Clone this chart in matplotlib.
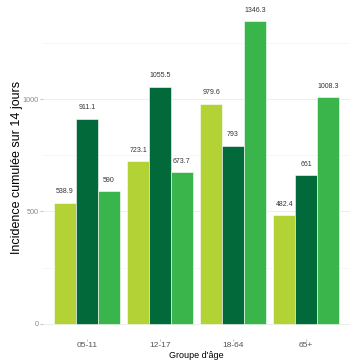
import matplotlib
matplotlib.use("Agg")
import matplotlib.pyplot as plt
import numpy as np
from matplotlib.ticker import MultipleLocator

plt.rcParams['font.family'] = ['Liberation Sans', 'DejaVu Sans']

groups = ["05-11", "12-17", "18-64", "65+"]
series_names = ["Période 1", "Période 2", "Période 3"]
values_p1 = [538.9, 723.1, 979.6, 482.4]
values_p2 = [911.1, 1055.5, 793, 661]
values_p3 = [590, 673.7, 1346.3, 1008.3]
colors = ["#B2D235", "#02693A", "#3AB54B"]

all_series = [values_p1, values_p2, values_p3]

fig = plt.figure(figsize=(3.6, 3.64), dpi=100)
ax = fig.add_axes([43/360, 1 - 339/364, 307/360, 333/364])

x = np.arange(len(groups))
bw = 0.3
for j, (vals, col, name) in enumerate(zip(all_series, colors, series_names)):
    pos = x + (j - 1) * bw
    ax.bar(pos, vals, width=bw, color=col, edgecolor="white", linewidth=0.4,
           label=name, zorder=3)
    for px, v in zip(pos, vals):
        lab = f"{v:g}"
        ax.annotate(lab, (px, v), xytext=(0, 8), textcoords="offset points",
                    ha="center", va="center", fontsize=5, color="#333333", zorder=4)

ax.set_xlim(-0.6, len(groups) - 0.4)
ax.set_ylim(-67.3, 1413.6)
ax.yaxis.set_major_locator(MultipleLocator(500))
ax.yaxis.set_minor_locator(MultipleLocator(250))
ax.set_xticks(x)
ax.set_xticklabels(groups)

ax.grid(which="major", axis="y", color="#EBEBEB", linewidth=0.6, zorder=0)
ax.grid(which="minor", axis="y", color="#F4F4F4", linewidth=0.5, zorder=0)
for s in ax.spines.values():
    s.set_visible(False)

ax.tick_params(axis="y", which="major", length=2, width=0.5, color="#AAAAAA",
               labelsize=5.2, labelcolor="#888888", pad=1)
ax.tick_params(axis="y", which="minor", length=0)
ax.tick_params(axis="x", which="major", length=1.5, width=0.5, color="#AAAAAA",
               labelsize=6, labelcolor="#555555", pad=0.5)

fig.text(17.5/360, 1 - 167/364, "Incidence cumulée sur 14 jours", rotation=90,
         ha="center", va="center", fontsize=9, color="black")
fig.text(196/360, 1 - 356/364, "Groupe d'âge", ha="center", va="center",
         fontsize=6.5, color="black")

fig.savefig("out.png", dpi=100)
